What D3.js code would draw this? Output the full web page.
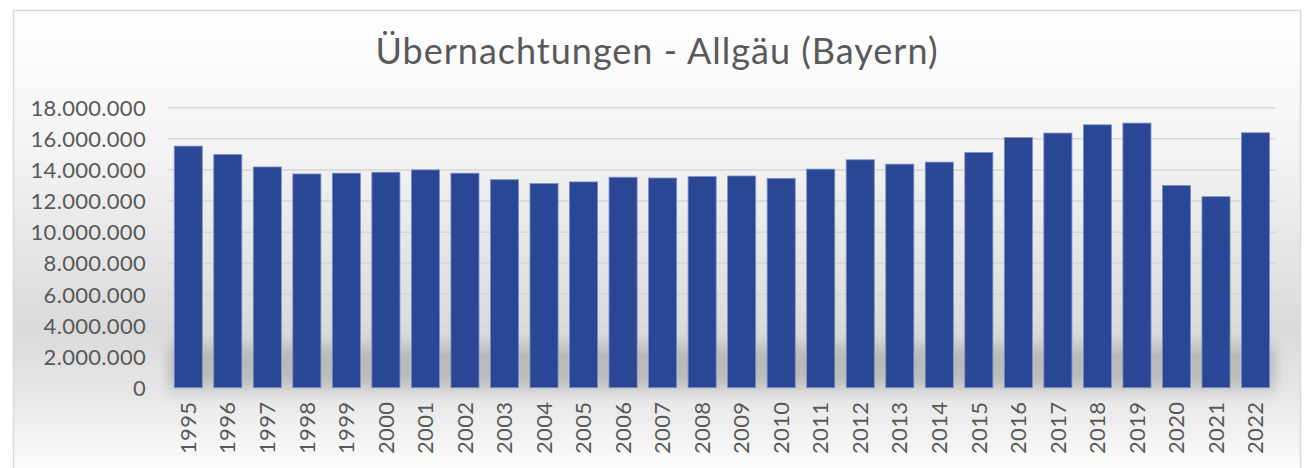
<!DOCTYPE html>
<html>
<head>
<meta charset="utf-8">
<script src="https://cdn.jsdelivr.net/npm/d3@7"></script>
<style>
  html, body { margin: 0; padding: 0; background: #ffffff; }
  svg { display: block; }
  text { font-family: Lato, "Open Sans", sans-serif; fill: #595959; }
</style>
</head>
<body>
<svg id="chart" width="1305" height="468"></svg>
<script>
const title = "Übernachtungen - Allgäu (Bayern)";
const years = ["1995","1996","1997","1998","1999","2000","2001","2002","2003","2004","2005","2006","2007","2008","2009","2010","2011","2012","2013","2014","2015","2016","2017","2018","2019","2020","2021","2022"];
const overnightStays = [15530000,14990000,14190000,13740000,13790000,13850000,14000000,13790000,13370000,13120000,13230000,13530000,13480000,13570000,13610000,13460000,14050000,14650000,14370000,14500000,15120000,16080000,16370000,16900000,17010000,13000000,12280000,16390000];
const yTicks = [0,2000000,4000000,6000000,8000000,10000000,12000000,14000000,16000000,18000000];

const svg = d3.select("#chart");
const plotLeft = 168.5, plotRight = 1275.3, plotTop = 107.7, plotBottom = 387.7;

const defs = svg.append("defs");
const bg = defs.append("linearGradient").attr("id","bg").attr("x1",0).attr("y1",0).attr("x2",0).attr("y2",1);
bg.append("stop").attr("offset","0%").attr("stop-color","#ffffff");
bg.append("stop").attr("offset","30%").attr("stop-color","#f3f3f3");
bg.append("stop").attr("offset","68%").attr("stop-color","#dadada");
bg.append("stop").attr("offset","82%").attr("stop-color","#e7e7e7");
bg.append("stop").attr("offset","100%").attr("stop-color","#ffffff");
const blur = defs.append("filter").attr("id","blur").attr("x","-10%").attr("y","-50%").attr("width","120%").attr("height","200%");
blur.append("feGaussianBlur").attr("stdDeviation","6 8");

svg.append("rect").attr("x",13.5).attr("y",10.5).attr("width",1287).attr("height",470)
  .attr("fill","url(#bg)").attr("stroke","#d9d9d9").attr("stroke-width",1.5);

const x = d3.scaleBand().domain(years).range([plotLeft, plotRight]).paddingInner(0.29).paddingOuter(0.145);
const y = d3.scaleLinear().domain([0, 18000000]).range([plotBottom, plotTop]);

const loc = d3.formatLocale({decimal: ",", thousands: ".", grouping: [3], currency: ["", "€"]});
const fmt = loc.format(",");

svg.append("g").selectAll("line").data(yTicks.filter(d => d > 0)).join("line")
  .attr("x1", plotLeft).attr("x2", plotRight)
  .attr("y1", d => y(d)).attr("y2", d => y(d))
  .attr("stroke", "#d6d6d6").attr("stroke-width", 1.5);

svg.append("rect").attr("x", plotLeft).attr("y", y(2800000)).attr("width", plotRight - plotLeft)
  .attr("height", plotBottom - y(2800000) + 1).attr("fill", "#a6a6a6").attr("opacity", 0.65)
  .attr("filter", "url(#blur)");

svg.append("line").attr("x1", plotLeft).attr("x2", plotRight).attr("y1", plotBottom + 0.5).attr("y2", plotBottom + 0.5)
  .attr("stroke", "#d0d0d0").attr("stroke-width", 1.5);

svg.append("g").selectAll("rect").data(years).join("rect")
  .attr("x", d => x(d))
  .attr("y", (d, i) => y(overnightStays[i]))
  .attr("width", x.bandwidth())
  .attr("height", (d, i) => y(0) - y(overnightStays[i]))
  .attr("fill", "#2a4795")
  .attr("stroke", "#7c8fc6").attr("stroke-width", 0.8);

const yAxis = d3.axisLeft(y).tickValues(yTicks).tickFormat(fmt).tickSize(0).tickPadding(0);
const ya = svg.append("g").attr("transform", `translate(146,0)`).call(yAxis);
ya.select(".domain").remove();
ya.selectAll("text").attr("font-size", 22).attr("letter-spacing", "0.3px").attr("font-family", null).attr("fill", "#595959").attr("dy", "0.35em");

const xAxis = d3.axisBottom(x).tickSize(0).tickPadding(0);
const xa = svg.append("g").attr("transform", `translate(0,${plotBottom})`).call(xAxis);
xa.select(".domain").remove();
xa.selectAll("text")
  .attr("font-size", 22).attr("letter-spacing", "0.3px").attr("font-family", null).attr("fill", "#595959")
  .attr("text-anchor", "end")
  .attr("transform", "translate(0,14) rotate(-90)")
  .attr("x", 0).attr("y", 0).attr("dy", "0.35em");

svg.append("text").attr("x", 657).attr("y", 64).attr("text-anchor", "middle")
  .attr("font-size", 36).attr("letter-spacing", "1px").text(title);
</script>
</body>
</html>
